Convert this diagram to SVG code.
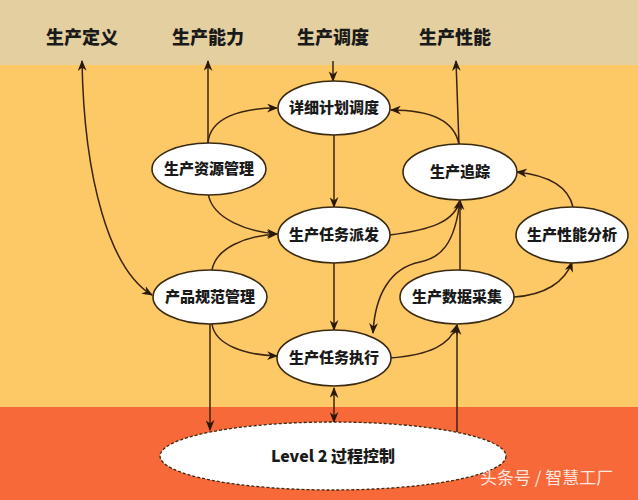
<svg xmlns="http://www.w3.org/2000/svg" width="638" height="500" viewBox="0 0 638 500">
<style>
.band-top{fill:#E4CFA0}
.band-mid{fill:#FDC866}
.band-bot{fill:#F8693A}
.hdr{font-family:"Noto Sans CJK SC","Noto Sans",sans-serif;font-weight:900;font-size:18px;fill:#1a1a1a;text-anchor:middle}
.node ellipse{fill:#fff;stroke:#3a2a12;stroke-width:1.6}
.node text{font-family:"Noto Sans CJK SC","Noto Sans",sans-serif;font-weight:900;font-size:15px;fill:#1a1a1a;text-anchor:middle}
.conn path{fill:none;stroke:#3a2412;stroke-width:1.5}
.wm{font-family:"Noto Sans CJK SC","Noto Sans",sans-serif;font-size:17px;fill:#fff;fill-opacity:0.85}
</style>
<defs>
<marker id="ah" viewBox="0 0 10 8" refX="9" refY="4" markerWidth="11" markerHeight="9" markerUnits="userSpaceOnUse" orient="auto-start-reverse">
<path d="M0,0 L10,4 L0,8 L3,4 z" fill="#2a1808"/>
</marker>
</defs>
<rect class="band-top" x="0" y="0" width="638" height="65"/>
<rect class="band-mid" x="0" y="65" width="638" height="342"/>
<rect class="band-bot" x="0" y="407" width="638" height="93"/>
<g id="headers">
<text class="hdr" x="82" y="44">生产定义</text>
<text class="hdr" x="208" y="44">生产能力</text>
<text class="hdr" x="333" y="44">生产调度</text>
<text class="hdr" x="455" y="44">生产性能</text>
</g>
<g id="connectors" class="conn">
<path d="M82,61 C84,180 110,270 152,295" marker-start="url(#ah)" marker-end="url(#ah)"/>
<path d="M208,143 L208,61" marker-end="url(#ah)"/>
<path d="M333,61 L333,81" marker-end="url(#ah)"/>
<path d="M459,145 L456,61" marker-end="url(#ah)"/>
<path d="M208,143 C210,118 240,108 277,108" marker-end="url(#ah)"/>
<path d="M459,145 C455,120 430,110 391,110" marker-end="url(#ah)"/>
<path d="M334,135 L334,207" marker-end="url(#ah)"/>
<path d="M208,193 C212,220 250,232 277,234" marker-end="url(#ah)"/>
<path d="M212,270 C216,248 245,236 277,234" marker-end="url(#ah)"/>
<path d="M390,235 C430,230 455,222 460,200" marker-end="url(#ah)"/>
<path d="M460,270 L460,200" marker-end="url(#ah)"/>
<path d="M460,200 C455,245 440,258 420,262 C390,268 375,295 373,333" marker-end="url(#ah)"/>
<path d="M334,262 L334,330" marker-end="url(#ah)"/>
<path d="M212,324 C215,345 245,355 277,356" marker-end="url(#ah)"/>
<path d="M390,358 C430,355 450,345 457,325" marker-end="url(#ah)"/>
<path d="M514,297 C545,295 565,282 572,262" marker-end="url(#ah)"/>
<path d="M573,207 C568,185 545,175 517,172" marker-end="url(#ah)"/>
<path d="M210,324 L210,430" marker-end="url(#ah)"/>
<path d="M334,388 L334,422" marker-start="url(#ah)" marker-end="url(#ah)"/>
<path d="M457,432 L457,325" marker-end="url(#ah)"/>
</g>
<g id="n-plan" class="node"><ellipse cx="334" cy="108" rx="56" ry="27"/><text x="334" y="113">详细计划调度</text></g>
<g id="n-resource" class="node"><ellipse cx="209" cy="169" rx="57" ry="26"/><text x="209" y="174">生产资源管理</text></g>
<g id="n-track" class="node"><ellipse cx="460" cy="172" rx="57" ry="28"/><text x="460" y="177">生产追踪</text></g>
<g id="n-dispatch" class="node"><ellipse cx="334" cy="235" rx="56" ry="28"/><text x="334" y="240">生产任务派发</text></g>
<g id="n-perf" class="node"><ellipse cx="572" cy="235" rx="56" ry="28"/><text x="572" y="240">生产性能分析</text></g>
<g id="n-spec" class="node"><ellipse cx="210" cy="297" rx="57" ry="27"/><text x="210" y="302">产品规范管理</text></g>
<g id="n-collect" class="node"><ellipse cx="457" cy="297" rx="57" ry="27"/><text x="457" y="302">生产数据采集</text></g>
<g id="n-exec" class="node"><ellipse cx="334" cy="358" rx="57" ry="28"/><text x="334" y="363">生产任务执行</text></g>
<g id="n-level2" class="node"><ellipse cx="333" cy="456" rx="173" ry="34" style="stroke-dasharray:3 2;stroke-width:1.3"/><text x="333" y="462" style="font-size:16px">Level 2 过程控制</text></g>
<text class="wm" x="480" y="484">头条号 / 智慧工厂</text>
</svg>
